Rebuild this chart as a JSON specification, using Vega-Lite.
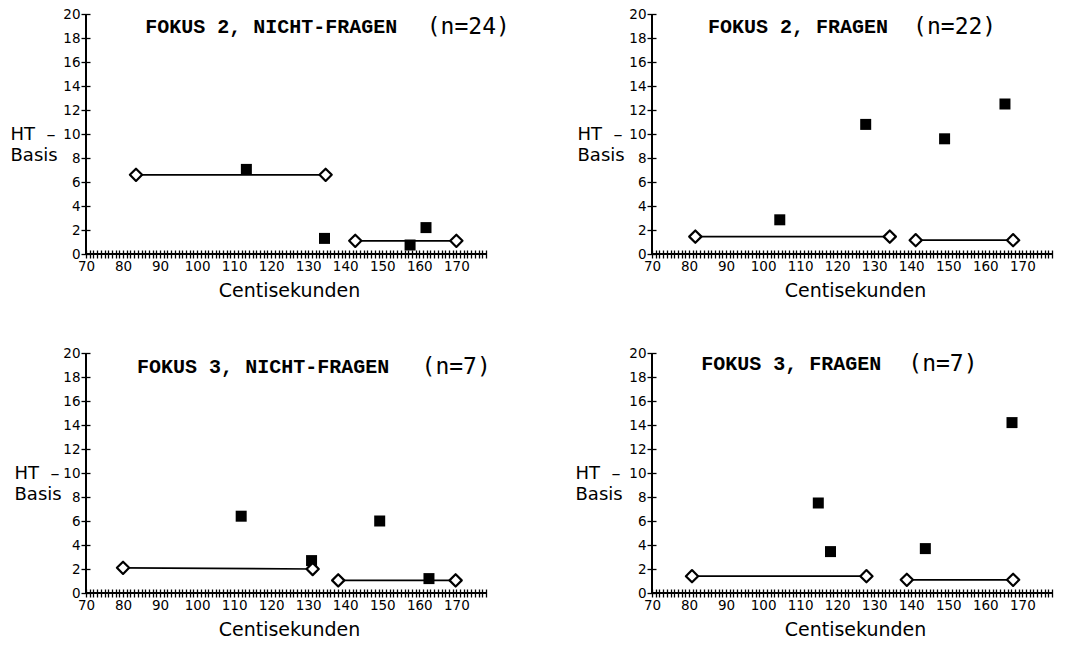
{
  "$schema": "https://vega.github.io/schema/vega-lite/v6.json",
  "background": "white",
  "padding": {"left": 10, "top": 7, "right": 5, "bottom": 5},
  "bounds": "flush",
  "columns": 2,
  "spacing": {"row": 99, "column": 166},
  "config": {
    "view": {"stroke": null},
    "scale": {"zero": false},
    "axisX": {
      "domain": false, "grid": false, "tickCount": 108, "tickSize": 8, "tickWidth": 1.3, "tickColor": "black", "offset": -4,
      "labelExpr": "datum.value % 10 === 0 ? datum.label : ''", "labelFlush": false, "labelPadding": 1,
      "labelFont": "DejaVu Sans", "labelFontSize": 13.5, "labelColor": "black",
      "titleFont": "DejaVu Sans", "titleFontSize": 19, "titleFontWeight": "normal", "titleColor": "black", "titlePadding": 9, "titleX": 203
    },
    "axisY": {
      "domain": false, "grid": false, "tickCount": 10, "tickSize": 9, "tickWidth": 1.3, "tickColor": "black", "offset": -4,
      "labelPadding": 1, "labelFont": "DejaVu Sans", "labelFontSize": 13.5, "labelColor": "black",
      "titleFont": "DejaVu Sans", "titleFontSize": 18, "titleFontWeight": "normal", "titleColor": "black",
      "titleAngle": 0, "titleAlign": "left", "titleBaseline": "middle", "titleY": 120, "titleLineHeight": 21
    }
  },
  "datasets": {
    "p1": [
      {"cs": 83.5, "ht": 6.6, "kind": "mean", "seg": "a"},
      {"cs": 134.7, "ht": 6.6, "kind": "mean", "seg": "a"},
      {"cs": 142.7, "ht": 1.1, "kind": "mean", "seg": "b"},
      {"cs": 170.0, "ht": 1.1, "kind": "mean", "seg": "b"},
      {"cs": 113.3, "ht": 7.05, "kind": "obs", "seg": "o"},
      {"cs": 134.4, "ht": 1.3, "kind": "obs", "seg": "o"},
      {"cs": 157.5, "ht": 0.75, "kind": "obs", "seg": "o"},
      {"cs": 161.8, "ht": 2.2, "kind": "obs", "seg": "o"}
    ],
    "p2": [
      {"cs": 81.7, "ht": 1.45, "kind": "mean", "seg": "a"},
      {"cs": 134.2, "ht": 1.45, "kind": "mean", "seg": "a"},
      {"cs": 141.2, "ht": 1.15, "kind": "mean", "seg": "b"},
      {"cs": 167.5, "ht": 1.15, "kind": "mean", "seg": "b"},
      {"cs": 104.5, "ht": 2.85, "kind": "obs", "seg": "o"},
      {"cs": 127.7, "ht": 10.8, "kind": "obs", "seg": "o"},
      {"cs": 149.0, "ht": 9.6, "kind": "obs", "seg": "o"},
      {"cs": 165.3, "ht": 12.5, "kind": "obs", "seg": "o"}
    ],
    "p3": [
      {"cs": 80.0, "ht": 2.1, "kind": "mean", "seg": "a"},
      {"cs": 131.2, "ht": 2.0, "kind": "mean", "seg": "a"},
      {"cs": 138.1, "ht": 1.05, "kind": "mean", "seg": "b"},
      {"cs": 169.8, "ht": 1.05, "kind": "mean", "seg": "b"},
      {"cs": 111.9, "ht": 6.4, "kind": "obs", "seg": "o"},
      {"cs": 130.9, "ht": 2.7, "kind": "obs", "seg": "o"},
      {"cs": 149.3, "ht": 6.0, "kind": "obs", "seg": "o"},
      {"cs": 162.6, "ht": 1.2, "kind": "obs", "seg": "o"}
    ],
    "p4": [
      {"cs": 80.8, "ht": 1.4, "kind": "mean", "seg": "a"},
      {"cs": 127.9, "ht": 1.4, "kind": "mean", "seg": "a"},
      {"cs": 138.8, "ht": 1.1, "kind": "mean", "seg": "b"},
      {"cs": 167.5, "ht": 1.1, "kind": "mean", "seg": "b"},
      {"cs": 114.9, "ht": 7.5, "kind": "obs", "seg": "o"},
      {"cs": 118.2, "ht": 3.45, "kind": "obs", "seg": "o"},
      {"cs": 143.8, "ht": 3.7, "kind": "obs", "seg": "o"},
      {"cs": 167.2, "ht": 14.2, "kind": "obs", "seg": "o"}
    ]
  },
  "concat": [
    {
      "width": 400, "height": 240,
      "data": {"name": "p1"},
      "layer": [
        {"data": {"values": [{}]}, "mark": {"type": "rule", "color": "black", "strokeWidth": 2}, "encoding": {"y": {"datum": 0, "type": "quantitative", "scale": {"domain": [0, 20], "nice": false}}}},
        {"data": {"values": [{}]}, "mark": {"type": "rule", "color": "black", "strokeWidth": 2}, "encoding": {"x": {"datum": 70, "type": "quantitative", "scale": {"domain": [70, 178], "nice": false}}}},
        {"transform": [{"filter": "datum.kind === 'mean'"}], "mark": {"type": "line", "color": "black", "strokeWidth": 1.7},
         "encoding": {
           "x": {"field": "cs", "type": "quantitative", "scale": {"domain": [70, 178], "nice": false}, "axis": {"title": "Centisekunden"}},
           "y": {"field": "ht", "type": "quantitative", "scale": {"domain": [0, 20], "nice": false}, "axis": {"title": ["HT\u00a0\u00a0\u2013", "Basis"], "titleX": -80}},
           "detail": {"field": "seg"}}},
        {"transform": [{"filter": "datum.kind === 'obs'"}], "mark": {"type": "square", "color": "black", "filled": true, "size": 121, "opacity": 1},
         "encoding": {"x": {"field": "cs", "type": "quantitative"}, "y": {"field": "ht", "type": "quantitative"}}},
        {"transform": [{"filter": "datum.kind === 'mean'"}], "mark": {"type": "point", "shape": "diamond", "filled": true, "fill": "white", "stroke": "black", "strokeWidth": 2.2, "strokeJoin": "round", "size": 150, "opacity": 1},
         "encoding": {"x": {"field": "cs", "type": "quantitative"}, "y": {"field": "ht", "type": "quantitative"}}},
        {"data": {"values": [{}]}, "mark": {"type": "text", "font": "Liberation Mono", "fontWeight": "bold", "fontSize": 20, "align": "left", "baseline": "middle", "color": "black"},
         "encoding": {"x": {"datum": 86, "type": "quantitative"}, "y": {"datum": 18.9, "type": "quantitative"}, "text": {"value": "FOKUS 2, NICHT-FRAGEN"}}},
        {"data": {"values": [{}]}, "mark": {"type": "text", "font": "DejaVu Sans Mono", "fontSize": 23, "align": "left", "baseline": "middle", "color": "black"},
         "encoding": {"x": {"datum": 162, "type": "quantitative"}, "y": {"datum": 18.9, "type": "quantitative"}, "text": {"value": "(n=24)"}}}
      ]
    },
    {
      "width": 400, "height": 240,
      "data": {"name": "p2"},
      "layer": [
        {"data": {"values": [{}]}, "mark": {"type": "rule", "color": "black", "strokeWidth": 2}, "encoding": {"y": {"datum": 0, "type": "quantitative", "scale": {"domain": [0, 20], "nice": false}}}},
        {"data": {"values": [{}]}, "mark": {"type": "rule", "color": "black", "strokeWidth": 2}, "encoding": {"x": {"datum": 70, "type": "quantitative", "scale": {"domain": [70, 178], "nice": false}}}},
        {"transform": [{"filter": "datum.kind === 'mean'"}], "mark": {"type": "line", "color": "black", "strokeWidth": 1.7},
         "encoding": {
           "x": {"field": "cs", "type": "quantitative", "scale": {"domain": [70, 178], "nice": false}, "axis": {"title": "Centisekunden"}},
           "y": {"field": "ht", "type": "quantitative", "scale": {"domain": [0, 20], "nice": false}, "axis": {"title": ["HT\u00a0\u00a0\u2013", "Basis"], "titleX": -79}},
           "detail": {"field": "seg"}}},
        {"transform": [{"filter": "datum.kind === 'obs'"}], "mark": {"type": "square", "color": "black", "filled": true, "size": 121, "opacity": 1},
         "encoding": {"x": {"field": "cs", "type": "quantitative"}, "y": {"field": "ht", "type": "quantitative"}}},
        {"transform": [{"filter": "datum.kind === 'mean'"}], "mark": {"type": "point", "shape": "diamond", "filled": true, "fill": "white", "stroke": "black", "strokeWidth": 2.2, "strokeJoin": "round", "size": 150, "opacity": 1},
         "encoding": {"x": {"field": "cs", "type": "quantitative"}, "y": {"field": "ht", "type": "quantitative"}}},
        {"data": {"values": [{}]}, "mark": {"type": "text", "font": "Liberation Mono", "fontWeight": "bold", "fontSize": 20, "align": "left", "baseline": "middle", "color": "black"},
         "encoding": {"x": {"datum": 85.1, "type": "quantitative"}, "y": {"datum": 18.9, "type": "quantitative"}, "text": {"value": "FOKUS 2, FRAGEN"}}},
        {"data": {"values": [{}]}, "mark": {"type": "text", "font": "DejaVu Sans Mono", "fontSize": 23, "align": "left", "baseline": "middle", "color": "black"},
         "encoding": {"x": {"datum": 140.5, "type": "quantitative"}, "y": {"datum": 18.9, "type": "quantitative"}, "text": {"value": "(n=22)"}}}
      ]
    },
    {
      "width": 400, "height": 240,
      "data": {"name": "p3"},
      "layer": [
        {"data": {"values": [{}]}, "mark": {"type": "rule", "color": "black", "strokeWidth": 2}, "encoding": {"y": {"datum": 0, "type": "quantitative", "scale": {"domain": [0, 20], "nice": false}}}},
        {"data": {"values": [{}]}, "mark": {"type": "rule", "color": "black", "strokeWidth": 2}, "encoding": {"x": {"datum": 70, "type": "quantitative", "scale": {"domain": [70, 178], "nice": false}}}},
        {"transform": [{"filter": "datum.kind === 'mean'"}], "mark": {"type": "line", "color": "black", "strokeWidth": 1.7},
         "encoding": {
           "x": {"field": "cs", "type": "quantitative", "scale": {"domain": [70, 178], "nice": false}, "axis": {"title": "Centisekunden"}},
           "y": {"field": "ht", "type": "quantitative", "scale": {"domain": [0, 20], "nice": false}, "axis": {"title": ["HT\u00a0\u00a0\u2013", "Basis"], "titleX": -76}},
           "detail": {"field": "seg"}}},
        {"transform": [{"filter": "datum.kind === 'obs'"}], "mark": {"type": "square", "color": "black", "filled": true, "size": 121, "opacity": 1},
         "encoding": {"x": {"field": "cs", "type": "quantitative"}, "y": {"field": "ht", "type": "quantitative"}}},
        {"transform": [{"filter": "datum.kind === 'mean'"}], "mark": {"type": "point", "shape": "diamond", "filled": true, "fill": "white", "stroke": "black", "strokeWidth": 2.2, "strokeJoin": "round", "size": 150, "opacity": 1},
         "encoding": {"x": {"field": "cs", "type": "quantitative"}, "y": {"field": "ht", "type": "quantitative"}}},
        {"data": {"values": [{}]}, "mark": {"type": "text", "font": "Liberation Mono", "fontWeight": "bold", "fontSize": 20, "align": "left", "baseline": "middle", "color": "black"},
         "encoding": {"x": {"datum": 83.8, "type": "quantitative"}, "y": {"datum": 18.8, "type": "quantitative"}, "text": {"value": "FOKUS 3, NICHT-FRAGEN"}}},
        {"data": {"values": [{}]}, "mark": {"type": "text", "font": "DejaVu Sans Mono", "fontSize": 23, "align": "left", "baseline": "middle", "color": "black"},
         "encoding": {"x": {"datum": 160.6, "type": "quantitative"}, "y": {"datum": 18.8, "type": "quantitative"}, "text": {"value": "(n=7)"}}}
      ]
    },
    {
      "width": 400, "height": 240,
      "data": {"name": "p4"},
      "layer": [
        {"data": {"values": [{}]}, "mark": {"type": "rule", "color": "black", "strokeWidth": 2}, "encoding": {"y": {"datum": 0, "type": "quantitative", "scale": {"domain": [0, 20], "nice": false}}}},
        {"data": {"values": [{}]}, "mark": {"type": "rule", "color": "black", "strokeWidth": 2}, "encoding": {"x": {"datum": 70, "type": "quantitative", "scale": {"domain": [70, 178], "nice": false}}}},
        {"transform": [{"filter": "datum.kind === 'mean'"}], "mark": {"type": "line", "color": "black", "strokeWidth": 1.7},
         "encoding": {
           "x": {"field": "cs", "type": "quantitative", "scale": {"domain": [70, 178], "nice": false}, "axis": {"title": "Centisekunden"}},
           "y": {"field": "ht", "type": "quantitative", "scale": {"domain": [0, 20], "nice": false}, "axis": {"title": ["HT\u00a0\u00a0\u2013", "Basis"], "titleX": -81}},
           "detail": {"field": "seg"}}},
        {"transform": [{"filter": "datum.kind === 'obs'"}], "mark": {"type": "square", "color": "black", "filled": true, "size": 121, "opacity": 1},
         "encoding": {"x": {"field": "cs", "type": "quantitative"}, "y": {"field": "ht", "type": "quantitative"}}},
        {"transform": [{"filter": "datum.kind === 'mean'"}], "mark": {"type": "point", "shape": "diamond", "filled": true, "fill": "white", "stroke": "black", "strokeWidth": 2.2, "strokeJoin": "round", "size": 150, "opacity": 1},
         "encoding": {"x": {"field": "cs", "type": "quantitative"}, "y": {"field": "ht", "type": "quantitative"}}},
        {"data": {"values": [{}]}, "mark": {"type": "text", "font": "Liberation Mono", "fontWeight": "bold", "fontSize": 20, "align": "left", "baseline": "middle", "color": "black"},
         "encoding": {"x": {"datum": 83.3, "type": "quantitative"}, "y": {"datum": 19.1, "type": "quantitative"}, "text": {"value": "FOKUS 3, FRAGEN"}}},
        {"data": {"values": [{}]}, "mark": {"type": "text", "font": "DejaVu Sans Mono", "fontSize": 23, "align": "left", "baseline": "middle", "color": "black"},
         "encoding": {"x": {"datum": 139.2, "type": "quantitative"}, "y": {"datum": 19.1, "type": "quantitative"}, "text": {"value": "(n=7)"}}}
      ]
    }
  ]
}
